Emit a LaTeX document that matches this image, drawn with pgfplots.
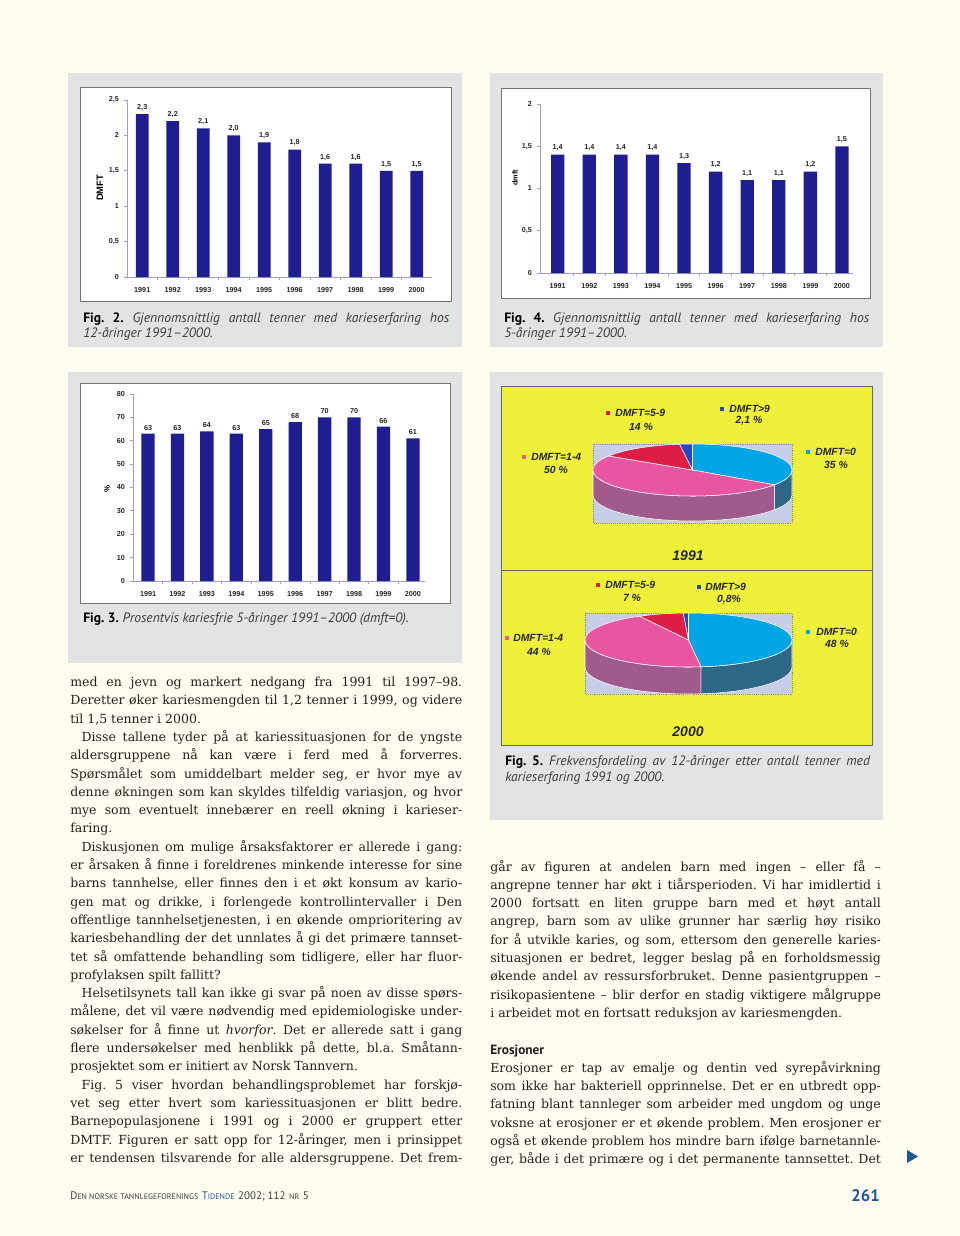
\documentclass[border=0pt]{standalone}
\usepackage{pgfplots}
\pgfplotsset{compat=1.18}
\usepackage{pgfplotstable}
\usepackage{fontspec}
\setmainfont{DejaVu Serif}
\newfontfamily\capfont{PT Sans}
\newfontfamily\chfont{Liberation Sans}
\frenchspacing

\definecolor{page}{RGB}{255,253,240}
\definecolor{boxgray}{RGB}{226,227,229}
\definecolor{navy}{RGB}{30,30,145}
\definecolor{axisc}{RGB}{150,160,200}
\definecolor{yel}{RGB}{238,240,58}
\definecolor{pieBg}{RGB}{200,206,232}
\definecolor{pBlue}{RGB}{0,165,230}
\definecolor{pPink}{RGB}{232,85,160}
\definecolor{pRed}{RGB}{220,30,70}
\definecolor{pDark}{RGB}{40,70,190}
\definecolor{sPink}{RGB}{160,90,140}
\definecolor{sBlue}{RGB}{45,105,135}
\definecolor{txt}{RGB}{35,31,32}
\definecolor{capt}{RGB}{60,60,60}
\definecolor{fblue}{RGB}{30,85,150}

% DMFT, 12-year-olds
\pgfplotstableread{
idx val
0 2.3
1 2.2
2 2.1
3 2.0
4 1.9
5 1.8
6 1.6
7 1.6
8 1.5
9 1.5
}\tabTwelve
% dmft, 5-year-olds
\pgfplotstableread{
idx val
0 1.4
1 1.4
2 1.4
3 1.4
4 1.3
5 1.2
6 1.1
7 1.1
8 1.2
9 1.5
}\tabFive
% caries free 5-year-olds, percent
\pgfplotstableread{
idx val
0 63
1 63
2 64
3 63
4 65
5 68
6 70
7 70
8 66
9 61
}\tabFree

\newcommand\tl{\chfont\bfseries\fontsize{5.4}{6}\selectfont}
\newcommand\pl{\chfont\bfseries\itshape\fontsize{7.8}{9}\selectfont}
\newcommand\J[1]{\hbox to\hsize{#1}}
\newcommand\E[1]{\hbox{#1}}
\newcommand\I{\hskip 8.5pt}
\newcommand\fsc[2]{{\fontsize{8.2}{9}\selectfont #1}{\fontsize{6}{7}\selectfont #2}}

\pgfplotsset{
  barchart/.style={
    scale only axis, clip=false,
    axis x line=bottom, axis y line=left,
    axis line style={draw=axisc, line width=0.7pt, -},
    xtick={0,...,9},
    xticklabels={1991,1992,1993,1994,1995,1996,1997,1998,1999,2000},
    major x tick style={draw=none},
    minor xtick={0.5,1.5,2.5,3.5,4.5,5.5,6.5,7.5,8.5},
    minor x tick style={draw=axisc, line width=0.6pt},
    ytick style={draw=axisc, line width=0.6pt},
    tick align=outside,
    major tick length=2.5pt, minor tick length=2.5pt,
    ticklabel style={font=\tl, text=black!85},
    xticklabel style={yshift=-2pt},
    /pgf/number format/assume math mode=true,
    ymin=0,
  },
  bars/.style={ybar, fill=navy, draw=none,
    every node near coord/.append style={font=\tl, text=black!85, inner sep=1pt, yshift=1.5pt}},
  overlaypie/.style={at={(0pt,0pt)}, anchor=north west, x=0.75pt, y=0.75pt,
    xmin=0, xmax=960, ymin=-1236, ymax=0, hide axis, clip=false},
}

% 3D pie: slices clockwise from 12 o'clock, angles from \ea, \eb, \ec
\newcommand\piecontent{%
  \fill[sBlue, draw=white, line width=0.4pt]
    (axis cs:{\cx+\ra*cos(\loA)},{\cy+\rb*sin(\loA)})
    arc[start angle=\loA, end angle=0, x radius=\ra*0.75pt, y radius=\rb*0.75pt]
    -- (axis cs:{\cx+\ra},{\cy-\hh})
    arc[start angle=0, end angle=\loA, x radius=\ra*0.75pt, y radius=\rb*0.75pt] -- cycle;
  \fill[sPink, draw=white, line width=0.4pt]
    (axis cs:{\cx+\ra*cos(\loB)},{\cy+\rb*sin(\loB)})
    arc[start angle=\loB, end angle=\ea, x radius=\ra*0.75pt, y radius=\rb*0.75pt]
    -- (axis cs:{\cx+\ra*cos(\ea)},{\cy+\rb*sin(\ea)-\hh})
    arc[start angle=\ea, end angle=\loB, x radius=\ra*0.75pt, y radius=\rb*0.75pt] -- cycle;
  \fill[pBlue, draw=white, line width=0.4pt] (axis cs:\cx,\cy) -- (axis cs:\cx,{\cy+\rb})
    arc[start angle=90, end angle=\ea, x radius=\ra*0.75pt, y radius=\rb*0.75pt] -- cycle;
  \fill[pPink, draw=white, line width=0.4pt] (axis cs:\cx,\cy)
    -- (axis cs:{\cx+\ra*cos(\ea)},{\cy+\rb*sin(\ea)})
    arc[start angle=\ea, end angle=\eb, x radius=\ra*0.75pt, y radius=\rb*0.75pt] -- cycle;
  \fill[pRed, draw=white, line width=0.4pt] (axis cs:\cx,\cy)
    -- (axis cs:{\cx+\ra*cos(\eb)},{\cy+\rb*sin(\eb)})
    arc[start angle=\eb, end angle=\ec, x radius=\ra*0.75pt, y radius=\rb*0.75pt] -- cycle;
  \fill[pDark, draw=white, line width=0.4pt] (axis cs:\cx,\cy)
    -- (axis cs:{\cx+\ra*cos(\ec)},{\cy+\rb*sin(\ec)})
    arc[start angle=\ec, end angle=-270, x radius=\ra*0.75pt, y radius=\rb*0.75pt] -- cycle;
}

\begin{document}
\begin{tikzpicture}[x=0.75pt, y=0.75pt]
\useasboundingbox (0,0) rectangle (960,-1236);
\fill[page] (0,0) rectangle (960,-1236);

% figure boxes
\fill[boxgray] (68,-73) rectangle (462,-347);
\fill[boxgray] (490,-73) rectangle (883,-347);
\fill[boxgray] (68,-372) rectangle (462,-663);
\fill[boxgray] (490,-372) rectangle (883,-820);
\filldraw[fill=white, draw=black!55, line width=0.5pt] (80,-87) rectangle (451,-301);
\filldraw[fill=white, draw=black!55, line width=0.5pt] (501,-88) rectangle (870,-298);
\filldraw[fill=white, draw=black!55, line width=0.5pt] (80,-383) rectangle (450,-603);

% Fig. 2  (origin at px 127,277)
\begin{axis}[barchart, at={(95.25pt,-207.75pt)}, anchor=south west,
  width=228.75pt, height=132.75pt, xmin=-0.5, xmax=9.5, ymax=2.5,
  ytick={0,0.5,1,1.5,2,2.5}, yticklabels={0,{0,5},1,{1,5},2,{2,5}}]
\addplot[bars, bar width=9.5pt,
  nodes near coords={\pgfmathprintnumber[fixed,fixed zerofill,precision=1,use comma]{\pgfplotspointmeta}}]
  table[x=idx, y=val] {\tabTwelve};
\end{axis}
\node[rotate=90, font=\chfont\bfseries\fontsize{7}{8}\selectfont] at (100,-188) {DMFT};

% Fig. 4  (origin at px 540,273)
\begin{axis}[barchart, at={(405pt,-204.75pt)}, anchor=south west,
  width=234.75pt, height=126.75pt, xmin=-0.56, xmax=9.35, ymax=2,
  ytick={0,0.5,1,1.5,2}, yticklabels={0,{0,5},1,{1,5},2}]
\addplot[bars, bar width=10pt,
  nodes near coords={\pgfmathprintnumber[fixed,fixed zerofill,precision=1,use comma]{\pgfplotspointmeta}}]
  table[x=idx, y=val] {\tabFive};
\end{axis}
\node[rotate=90, font=\chfont\bfseries\fontsize{5.5}{6}\selectfont] at (515,-178) {dmft};

% Fig. 3  (origin at px 133,581)
\begin{axis}[barchart, at={(99.75pt,-435.75pt)}, anchor=south west,
  width=219pt, height=140.25pt, xmin=-0.51, xmax=9.41, ymax=80,
  ytick={0,10,20,30,40,50,60,70,80}]
\addplot[bars, bar width=10pt, nodes near coords]
  table[x=idx, y=val] {\tabFree};
\end{axis}
\node[rotate=90, font=\chfont\bfseries\fontsize{6}{7}\selectfont] at (107,-489) {\%};

% Fig. 5 panel
\filldraw[fill=yel, draw=black!60, line width=0.5pt] (501,-386) rectangle (872,-745);
\draw[black!60, line width=0.5pt] (501,-570) -- (872,-570);
\filldraw[fill=pieBg, draw=black!45, densely dotted, line width=0.4pt] (593,-444) rectangle (792,-523);
\filldraw[fill=pieBg, draw=black!45, densely dotted, line width=0.4pt] (585,-613) rectangle (792,-694);

% 1991: DMFT=0, 1-4, 5-9, >9
\pgfmathsetmacro\tot{35+50+14+2.1}
\pgfmathsetmacro\ea{90-35/\tot*360}
\pgfmathsetmacro\eb{\ea-50/\tot*360}
\pgfmathsetmacro\ec{\eb-14/\tot*360}
\pgfmathsetmacro\loA{max(\ea,-180)}
\pgfmathsetmacro\loB{max(\eb,-180)}
\def\cx{692.5}\def\cy{-470}\def\ra{99.5}\def\rb{26}\def\hh{25}
\begin{axis}[overlaypie]
\piecontent
\end{axis}

% 2000: DMFT=0, 1-4, 5-9, >9
\pgfmathsetmacro\tot{48+44+7+0.8}
\pgfmathsetmacro\ea{90-48/\tot*360}
\pgfmathsetmacro\eb{\ea-44/\tot*360}
\pgfmathsetmacro\ec{\eb-7/\tot*360}
\pgfmathsetmacro\loA{max(\ea,-180)}
\pgfmathsetmacro\loB{max(\eb,-180)}
\def\cx{688.5}\def\cy{-640}\def\ra{103.5}\def\rb{27}\def\hh{27}
\begin{axis}[overlaypie]
\piecontent
\end{axis}

% pie labels
\begin{scope}[every node/.style={inner sep=0, font=\pl, text=black!85}]
\fill[pRed] (606,-411) rectangle (610,-415);
\node[anchor=west] at (615,-413) {DMFT=5-9};
\node at (641,-427) {14 \%};
\fill[pDark] (720,-407) rectangle (724,-411);
\node[anchor=west] at (729,-409) {DMFT>9};
\node at (749,-421) {2,1 \%};
\fill[pPink] (522,-455) rectangle (526,-459);
\node[anchor=west] at (531,-457) {DMFT=1-4};
\node at (556,-470) {50 \%};
\fill[pBlue] (806,-450) rectangle (810,-454);
\node[anchor=west] at (815,-452) {DMFT=0};
\node at (836,-465) {35 \%};

\fill[pRed] (596,-583) rectangle (600,-587);
\node[anchor=west] at (605,-585) {DMFT=5-9};
\node at (632,-598) {7 \%};
\fill[pDark] (697,-585) rectangle (701,-589);
\node[anchor=west] at (705,-587) {DMFT>9};
\node at (729,-600) {0,8\%};
\fill[pPink] (505,-636) rectangle (509,-640);
\node[anchor=west] at (513,-638) {DMFT=1-4};
\node at (539,-652) {44 \%};
\fill[pBlue] (806,-630) rectangle (810,-634);
\node[anchor=west] at (816,-632) {DMFT=0};
\node at (837,-644) {48 \%};
\node[font=\chfont\bfseries\itshape\fontsize{10.5}{12}\selectfont] at (688,-556) {1991};
\node[font=\chfont\bfseries\itshape\fontsize{10.5}{12}\selectfont] at (688,-732) {2000};
\end{scope}

% captions
\begin{scope}[every node/.style={inner sep=0, anchor=base west, text=capt,
    font=\capfont\fontsize{10.2}{12}\selectfont}]
\node at (83,-322) {\makebox[274.5pt][s]{\textcolor{black}{\textbf{Fig. 2.}} \textit{Gjennomsnittlig antall tenner med karieserfaring hos}}};
\node at (83,-337) {\textit{12-åringer 1991–2000.}};
\node at (504,-322) {\makebox[273.75pt][s]{\textcolor{black}{\textbf{Fig. 4.}} \textit{Gjennomsnittlig antall tenner med karieserfaring hos}}};
\node at (504,-337) {\textit{5-åringer 1991–2000.}};
\node at (83,-622) {\textcolor{black}{\textbf{Fig. 3.}} \textit{Prosentvis kariesfrie 5-åringer 1991–2000 (dmft=0).}};
\node at (505,-765) {\makebox[273.75pt][s]{\textcolor{black}{\textbf{Fig. 5.}} \textit{Frekvensfordeling av 12-åringer etter antall tenner med}}};
\node at (505,-781) {\textit{karieserfaring 1991 og 2000.}};
\end{scope}

% body text, left column
\node[anchor=base west, inner sep=0, text=txt] at (70,-686.5) {\vtop{\hsize=294pt
\fontsize{9.4}{13.725}\selectfont\baselineskip=13.725pt
\J{med en jevn og markert nedgang fra 1991 til 1997–98.}
\J{Deretter øker kariesmengden til 1,2 tenner i 1999, og videre}
\E{til 1,5 tenner i 2000.}
\J{\I Disse tallene tyder på at kariessituasjonen for de yngste}
\J{aldersgruppene nå kan være i ferd med å forverres.}
\J{Spørsmålet som umiddelbart melder seg, er hvor mye av}
\J{denne økningen som kan skyldes tilfeldig variasjon, og hvor}
\J{mye som eventuelt innebærer en reell økning i karieser-}
\E{faring.}
\J{\I Diskusjonen om mulige årsaksfaktorer er allerede i gang:}
\J{er årsaken å finne i foreldrenes minkende interesse for sine}
\J{barns tannhelse, eller finnes den i et økt konsum av kario-}
\J{gen mat og drikke, i forlengede kontrollintervaller i Den}
\J{offentlige tannhelsetjenesten, i en økende omprioritering av}
\J{kariesbehandling der det unnlates å gi det primære tannset-}
\J{tet så omfattende behandling som tidligere, eller har fluor-}
\E{profylaksen spilt fallitt?}
\J{\I Helsetilsynets tall kan ikke gi svar på noen av disse spørs-}
\J{målene, det vil være nødvendig med epidemiologiske under-}
\J{søkelser for å finne ut \textit{hvorfor}. Det er allerede satt i gang}
\J{flere undersøkelser med henblikk på dette, bl.a. Småtann-}
\E{prosjektet som er initiert av Norsk Tannvern.}
\J{\I Fig. 5 viser hvordan behandlingsproblemet har forskjø-}
\J{vet seg etter hvert som kariessituasjonen er blitt bedre.}
\J{Barnepopulasjonene i 1991 og i 2000 er gruppert etter}
\J{DMTF. Figuren er satt opp for 12-åringer, men i prinsippet}
\J{er tendensen tilsvarende for alle aldersgruppene. Det frem-}
}};

% body text, right column
\node[anchor=base west, inner sep=0, text=txt] at (490,-871) {\vtop{\hsize=293pt
\fontsize{9.4}{13.725}\selectfont\baselineskip=13.725pt
\J{går av figuren at andelen barn med ingen – eller få –}
\J{angrepne tenner har økt i tiårsperioden. Vi har imidlertid i}
\J{2000 fortsatt en liten gruppe barn med et høyt antall}
\J{angrep, barn som av ulike grunner har særlig høy risiko}
\J{for å utvikle karies, og som, ettersom den generelle karies-}
\J{situasjonen er bedret, legger beslag på en forholdsmessig}
\J{økende andel av ressursforbruket. Denne pasientgruppen –}
\J{risikopasientene – blir derfor en stadig viktigere målgruppe}
\E{i arbeidet mot en fortsatt reduksjon av kariesmengden.}
\E{}
\E{\capfont\bfseries\fontsize{10}{12}\selectfont Erosjoner}
\J{Erosjoner er tap av emalje og dentin ved syrepåvirkning}
\J{som ikke har bakteriell opprinnelse. Det er en utbredt opp-}
\J{fatning blant tannleger som arbeider med ungdom og unge}
\J{voksne at erosjoner er et økende problem. Men erosjoner er}
\J{også et økende problem hos mindre barn ifølge barnetannle-}
\J{ger, både i det primære og i det permanente tannsettet. Det}
}};

\fill[fblue] (907,-1150) -- (918,-1156.5) -- (907,-1163) -- cycle;

% footer
\node[anchor=base west, inner sep=0, text=capt, font=\capfont] at (70,-1199)
  {\fsc{D}{EN NORSKE TANNLEGEFORENINGS} \textcolor{fblue}{\fsc{T}{IDENDE}} {\fontsize{8.2}{9}\selectfont 2002; 112} \fsc{}{NR} {\fontsize{8.2}{9}\selectfont 5}};
\node[anchor=base east, inner sep=0, text=fblue, font=\capfont\bfseries\fontsize{12.5}{14}\selectfont] at (880,-1201) {261};
\end{tikzpicture}
\end{document}
